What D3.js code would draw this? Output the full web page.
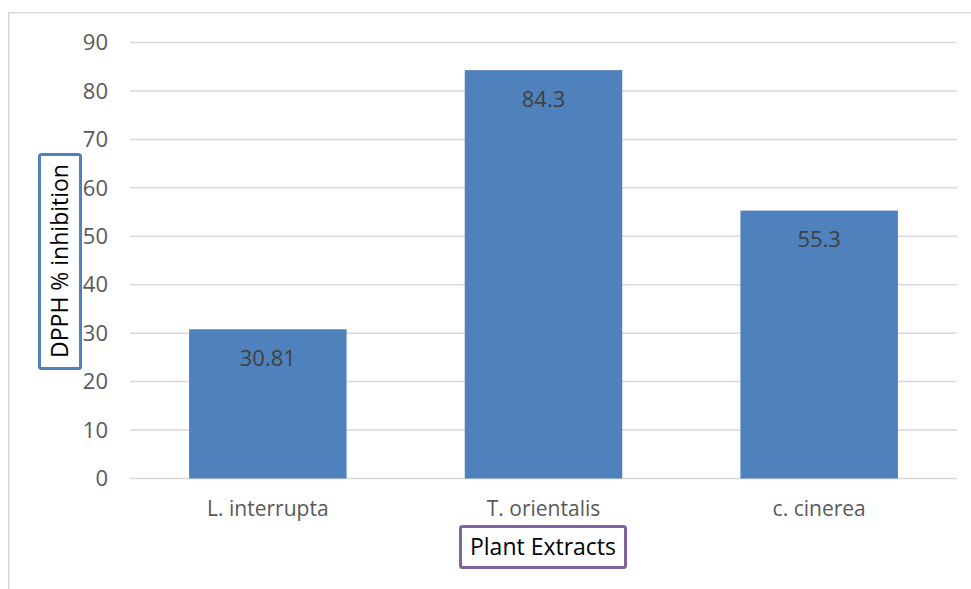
<!DOCTYPE html>
<html>
<head>
<meta charset="utf-8">
<script src="https://cdn.jsdelivr.net/npm/d3@7"></script>
<style>
  html, body { margin: 0; padding: 0; background: #fff; }
  svg { display: block; }
  text { font-family: "Open Sans", "Noto Sans", sans-serif; }
</style>
</head>
<body>
<svg id="chart" width="971" height="589"></svg>
<script>
const categories = ["L. interrupta", "T. orientalis", "c. cinerea"];
const values = [30.81, 84.3, 55.3];
const valueLabels = ["30.81", "84.3", "55.3"];
const yTicks = [0, 10, 20, 30, 40, 50, 60, 70, 80, 90];
const xTitle = "Plant Extracts";
const yTitle = "DPPH % inhibition";

const svg = d3.select("#chart");

// outer chart border (only top and left visible in frame)
svg.append("rect")
  .attr("x", 8.75).attr("y", 12.75)
  .attr("width", 1000).attr("height", 1000)
  .attr("fill", "#fff")
  .attr("stroke", "#d9d9d9").attr("stroke-width", 1.5);

const plot = { left: 130, right: 957, top: 42.5, bottom: 478.5 };

const x = d3.scaleBand()
  .domain(categories)
  .range([plot.left, plot.right])
  .paddingInner(0.4287)
  .paddingOuter(0.4287 / 2);

const y = d3.scaleLinear()
  .domain([0, 90])
  .range([plot.bottom, plot.top]);

// gridlines
svg.append("g")
  .selectAll("line")
  .data(yTicks)
  .join("line")
  .attr("x1", plot.left).attr("x2", plot.right)
  .attr("y1", d => y(d)).attr("y2", d => y(d))
  .attr("stroke", "#d9d9d9").attr("stroke-width", 1.5);

// y tick labels
svg.append("g")
  .selectAll("text")
  .data(yTicks)
  .join("text")
  .attr("x", 108)
  .attr("y", d => y(d))
  .attr("dy", "0.35em")
  .attr("text-anchor", "end")
  .attr("fill", "#595959")
  .attr("font-size", 22)
  .text(d => d);

// bars
svg.append("g")
  .selectAll("rect")
  .data(values)
  .join("rect")
  .attr("x", (d, i) => x(categories[i]))
  .attr("y", d => y(d))
  .attr("width", x.bandwidth())
  .attr("height", d => y(0) - y(d))
  .attr("fill", "#4f81bd");

// data labels
svg.append("g")
  .selectAll("text")
  .data(values)
  .join("text")
  .attr("x", (d, i) => x(categories[i]) + x.bandwidth() / 2)
  .attr("y", d => y(d) + 29)
  .attr("dy", "0.35em")
  .attr("text-anchor", "middle")
  .attr("fill", "#404040")
  .attr("font-size", 22)
  .text((d, i) => valueLabels[i]);

// category labels
svg.append("g")
  .selectAll("text")
  .data(categories)
  .join("text")
  .attr("x", d => x(d) + x.bandwidth() / 2)
  .attr("y", 509)
  .attr("dy", "0.35em")
  .attr("text-anchor", "middle")
  .attr("fill", "#595959")
  .attr("font-size", 21)
  .text(d => d);

// x axis title box
svg.append("rect")
  .attr("x", 460.5).attr("y", 526.5)
  .attr("width", 165).attr("height", 41)
  .attr("rx", 2)
  .attr("fill", "#fff")
  .attr("stroke", "#8064a2").attr("stroke-width", 3);
svg.append("text")
  .attr("x", 543).attr("y", 547)
  .attr("dy", "0.35em")
  .attr("text-anchor", "middle")
  .attr("fill", "#000")
  .attr("font-size", 23)
  .text(xTitle);

// y axis title box
svg.append("rect")
  .attr("x", 39.5).attr("y", 154.5)
  .attr("width", 41).attr("height", 214)
  .attr("rx", 2)
  .attr("fill", "#fff")
  .attr("stroke", "#4f81bd").attr("stroke-width", 3);
svg.append("text")
  .attr("transform", "translate(60,261) rotate(-90)")
  .attr("dy", "0.35em")
  .attr("text-anchor", "middle")
  .attr("fill", "#000")
  .attr("font-size", 23)
  .text(yTitle);
</script>
</body>
</html>
